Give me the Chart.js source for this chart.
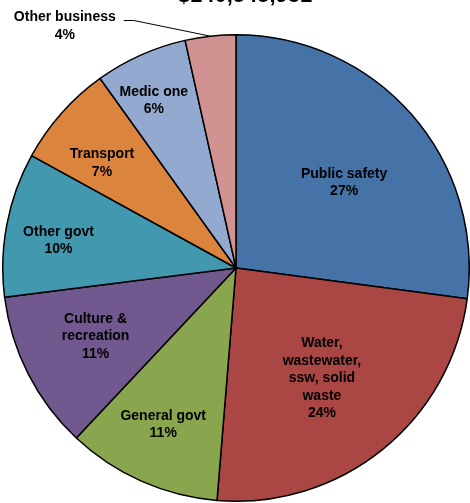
<!DOCTYPE html>
<html lang="en">
<head>
    <meta charset="UTF-8">
    <title>Budget by Department</title>
    <script src="https://cdn.jsdelivr.net/npm/chart.js"></script>
    <style>
        html, body { margin: 0; padding: 0; background: #ffffff; }
        #wrap { position: relative; width: 470px; height: 503px; overflow: hidden; }
    </style>
</head>
<body>
    <div id="wrap">
        <canvas id="pieChart" width="470" height="503"></canvas>
    </div>

    <script>
        // --- DATA ---
        const titleText = '$140,545,931';
        const categories = [
            ['Public safety'],
            ['Water,', 'wastewater,', 'ssw, solid', 'waste'],
            ['General govt'],
            ['Culture &', 'recreation'],
            ['Other govt'],
            ['Transport'],
            ['Medic one'],
            ['Other business']
        ];
        const shares = [27.1, 24.2, 10.7, 11.0, 10.0, 7.1, 6.4, 3.5];
        const sliceColors = ['#4572A7', '#AA4643', '#89A54E', '#71588F', '#4198AF', '#DB843D', '#93A9CF', '#D19392'];

        // label placement: distance from centre (fraction of radius) and angle nudge (degrees)
        const labelRadius = [0.59, 0.60, 0.74, 0.67, 0.77, 0.73, 0.80, 1.27];
        const labelNudge = [3, 1, 1, 1, -2, -3.5, -2, -29];
        const outsideLabel = 7; // "Other business" sits outside with a leader line

        const labelPlugin = {
            id: 'sliceLabels',
            afterDatasetsDraw(chart) {
                const ctx = chart.ctx;
                const arcs = chart.getDatasetMeta(0).data;
                ctx.save();
                ctx.font = 'bold 14px "Liberation Sans", Arial, sans-serif';
                ctx.fillStyle = '#000';
                ctx.textAlign = 'center';
                ctx.textBaseline = 'middle';
                const lineH = 17.5;

                arcs.forEach((arc, i) => {
                    const p = arc.getProps(['x', 'y', 'startAngle', 'endAngle', 'outerRadius'], true);
                    const mid = (p.startAngle + p.endAngle) / 2 + labelNudge[i] * Math.PI / 180;
                    const r = p.outerRadius * labelRadius[i];
                    const cx = p.x + Math.cos(mid) * r;
                    const cy = p.y + Math.sin(mid) * r;
                    const lines = categories[i].concat([Math.round(shares[i]) + '%']);
                    const top = cy - (lines.length - 1) * lineH / 2;
                    lines.forEach((t, k) => ctx.fillText(t, cx, top + k * lineH));

                    if (i === outsideLabel) {
                        const realMid = (p.startAngle + p.endAngle) / 2;
                        const ex = p.x + Math.cos(realMid) * p.outerRadius;
                        const ey = p.y + Math.sin(realMid) * p.outerRadius;
                        const w = ctx.measureText(categories[i][0]).width;
                        const sx = cx + w / 2 + 8;
                        const sy = top + 3;
                        ctx.beginPath();
                        ctx.strokeStyle = '#000';
                        ctx.lineWidth = 1;
                        ctx.moveTo(sx, sy);
                        ctx.lineTo(sx + 10, sy);
                        ctx.lineTo(ex, ey);
                        ctx.stroke();
                    }
                });

                // title, mostly clipped off the top of the picture
                ctx.font = 'bold 22px "Liberation Sans", Arial, sans-serif';
                ctx.textBaseline = 'alphabetic';
                ctx.fillText(titleText, 245, 2);
                ctx.restore();
            }
        };

        new Chart(document.getElementById('pieChart'), {
            type: 'pie',
            data: {
                labels: categories.map(c => c.join(' ')),
                datasets: [{
                    data: shares,
                    backgroundColor: sliceColors,
                    borderColor: '#000000',
                    borderWidth: 1.5
                }]
            },
            options: {
                responsive: false,
                animation: false,
                layout: { padding: { top: 33, bottom: 0, left: 2, right: 0 } },
                plugins: {
                    legend: { display: false },
                    tooltip: { enabled: false }
                }
            },
            plugins: [labelPlugin]
        });
    </script>
</body>
</html>
